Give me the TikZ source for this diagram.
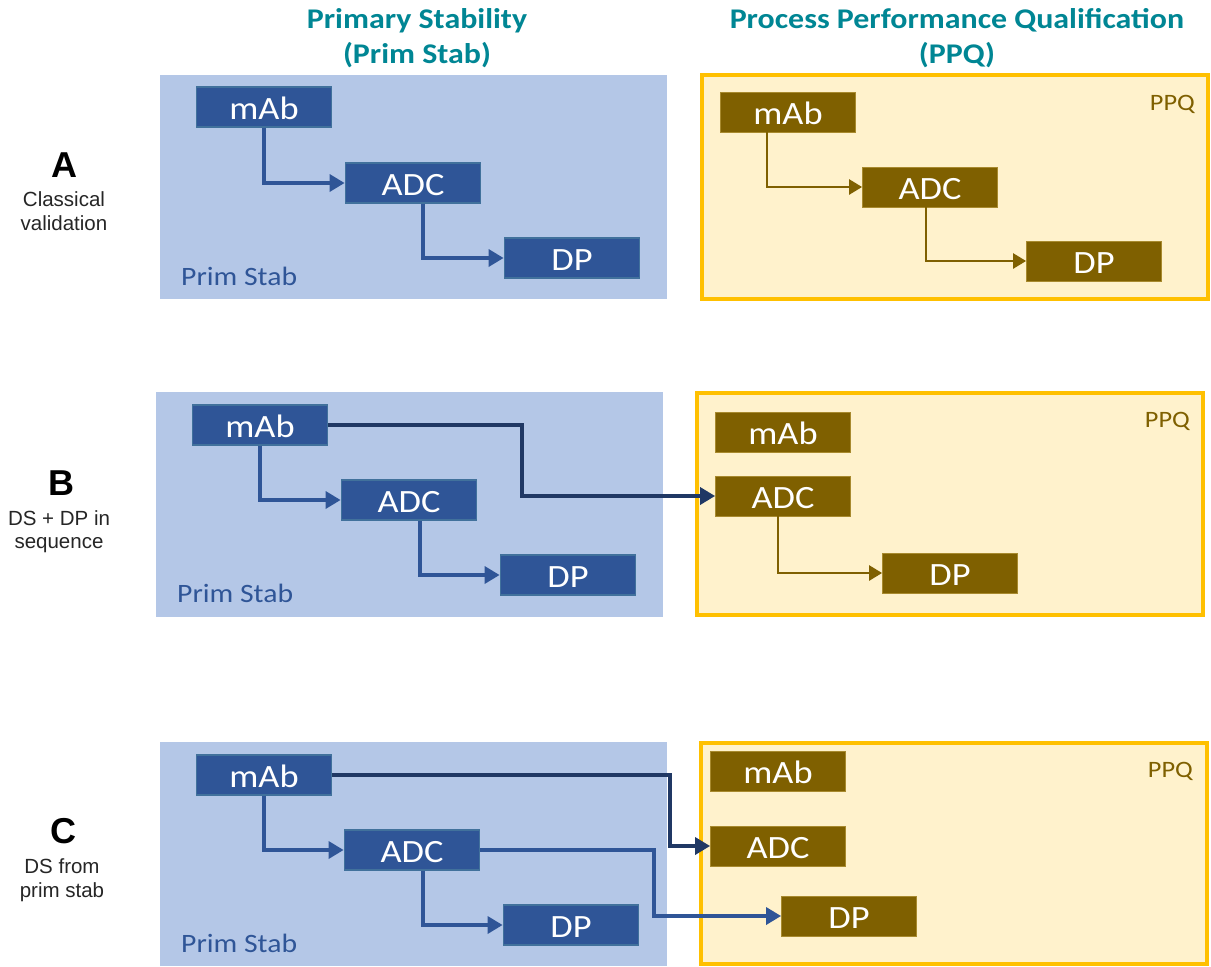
\documentclass[tikz,border=0pt]{standalone}
\usepackage{fontspec}
\setmainfont[FakeStretch=1.12]{Carlito}
\newfontfamily\labelfont{Liberation Sans}
\usetikzlibrary{arrows.meta}

\definecolor{stabfill}{HTML}{B4C7E7}
\definecolor{stabbox}{HTML}{2F5597}
\definecolor{stabedge}{HTML}{41719C}
\definecolor{crossline}{HTML}{203864}
\definecolor{ppqfill}{HTML}{FFF2CC}
\definecolor{ppqedge}{HTML}{FFC000}
\definecolor{ppqbox}{HTML}{7F6000}
\definecolor{ppqboxedge}{HTML}{A88A2E}
\definecolor{titleteal}{RGB}{0,134,148}
\definecolor{captiongrey}{HTML}{262626}

\begin{document}
\begin{tikzpicture}[x=1pt,y=-1pt,
  stabpanel/.style={fill=stabfill, draw=none},
  ppqpanel/.style={fill=ppqfill, draw=ppqedge, line width=3.2pt},
  unitbox/.style={rectangle, minimum width=135pt, minimum height=40pt,
    inner sep=0pt, text=white, font=\fontsize{32.5}{38}\selectfont,
    text height=24pt, text depth=0pt},
  stabunit/.style={unitbox, fill=stabbox, draw=stabedge, line width=1.8pt},
  ppqunit/.style={unitbox, fill=ppqbox, draw=ppqboxedge, line width=0.8pt},
  stabflow/.style={draw=stabbox, line width=3.4pt,
    -{Triangle[length=15pt,width=17pt]}},
  crossflow/.style={draw=crossline, line width=3.4pt,
    -{Triangle[length=15pt,width=17pt]}},
  ppqflow/.style={draw=ppqbox, line width=2.5pt,
    -{Triangle[length=13pt,width=15pt]}},
  title/.style={anchor=base, inner sep=0pt, text=titleteal,
    font=\fontsize{28.5}{34}\selectfont\bfseries},
  letter/.style={anchor=base, inner sep=0pt, text=black,
    font={\labelfont\fontsize{36}{40}\selectfont\bfseries}},
  caption/.style={anchor=base, inner sep=0pt, text=captiongrey,
    font={\labelfont\fontsize{20.5}{24}\selectfont}},
  stabtag/.style={anchor=base west, inner sep=0pt, text=stabbox,
    font=\fontsize{26.5}{30}\selectfont},
  ppqtag/.style={anchor=base east, inner sep=0pt, text=ppqbox,
    font=\fontsize{23.5}{27}\selectfont},
]
\useasboundingbox (0,0) rectangle (1211,967);
\fill[white] (0,0) rectangle (1211,967);

% column headings
\node[title] (t1a) at (417,28) {Primary Stability};
\node[title] (t1b) at (417,63) {(Prim Stab)};
\node[title] (t2a) at (957,28) {Process Performance Qualification};
\node[title] (t2b) at (957,63) {(PPQ)};

% row labels
\node[letter]  (labA)  at (64,177) {A};
\node[caption] (capA1) at (64,206) {Classical};
\node[caption] (capA2) at (64,230) {validation};
\node[letter]  (labB)  at (61,495) {B};
\node[caption] (capB1) at (59,525) {DS + DP in};
\node[caption] (capB2) at (59,548) {sequence};
\node[letter]  (labC)  at (63,843) {C};
\node[caption] (capC1) at (62,873) {DS from};
\node[caption] (capC2) at (62,897) {prim stab};

% panels
\path[stabpanel] (160,75) rectangle (667,299);
\path[ppqpanel]  (702,75) rectangle (1208,299);
\path[stabpanel] (156,392) rectangle (663,617);
\path[ppqpanel]  (697,393) rectangle (1203,615);
\path[stabpanel] (160,742) rectangle (667,966);
\path[ppqpanel]  (701,743) rectangle (1207,964);

\node[stabtag] (psA) at (181,285) {Prim Stab};
\node[stabtag] (psB) at (177,602) {Prim Stab};
\node[stabtag] (psC) at (181,952) {Prim Stab};
\node[ppqtag] (pqA) at (1195,110) {PPQ};
\node[ppqtag] (pqB) at (1190,427) {PPQ};
\node[ppqtag] (pqC) at (1193,777) {PPQ};

% row A: classical validation
\node[stabunit] (sAm) at (264,107) {mAb};
\node[stabunit] (sAa) at (413,183) {ADC};
\node[stabunit] (sAd) at (572,258) {DP};
\node[ppqunit] (pAm) at (788,112) {mAb};
\node[ppqunit] (pAa) at (930,187) {ADC};
\node[ppqunit] (pAd) at (1094,261) {DP};

\draw[stabflow] (sAm.south) |- (sAa.west);
\draw[stabflow] ([xshift=10pt]sAa.south) |- (sAd.west);
\draw[ppqflow] ([xshift=-21pt]pAm.south) |- (pAa.west);
\draw[ppqflow] ([xshift=-4pt]pAa.south) |- (pAd.west);

% row B: DS + DP in sequence
\node[stabunit] (sBm) at (260,425) {mAb};
\node[stabunit] (sBa) at (409,500) {ADC};
\node[stabunit] (sBd) at (568,575) {DP};
\node[ppqunit] (pBm) at (783,432) {mAb};
\node[ppqunit] (pBa) at (783,496) {ADC};
\node[ppqunit] (pBd) at (950,573) {DP};

\coordinate (bendB) at (522,0);
\draw[stabflow] (sBm.south) |- (sBa.west);
\draw[stabflow] ([xshift=11pt]sBa.south) |- (sBd.west);
\draw[crossflow] (sBm.east) -- (sBm.east -| bendB) |- (pBa.west);
\draw[ppqflow] ([xshift=-5pt]pBa.south) |- (pBd.west);

% row C: DS from prim stab
\node[stabunit] (sCm) at (264,775) {mAb};
\node[stabunit] (sCa) at (412,850) {ADC};
\node[stabunit] (sCd) at (571,925) {DP};
\node[ppqunit] (pCm) at (778,771) {mAb};
\node[ppqunit] (pCa) at (778,846) {ADC};
\node[ppqunit] (pCd) at (849,916) {DP};

\coordinate (bendCm) at (670,0);
\coordinate (bendCa) at (654,0);
\draw[stabflow] (sCm.south) |- (sCa.west);
\draw[stabflow] ([xshift=11pt]sCa.south) |- (sCd.west);
\draw[crossflow] (sCm.east) -- (sCm.east -| bendCm) |- (pCa.west);
\draw[stabflow] (sCa.east) -- (sCa.east -| bendCa) |- (pCd.west);
\end{tikzpicture}
\end{document}
